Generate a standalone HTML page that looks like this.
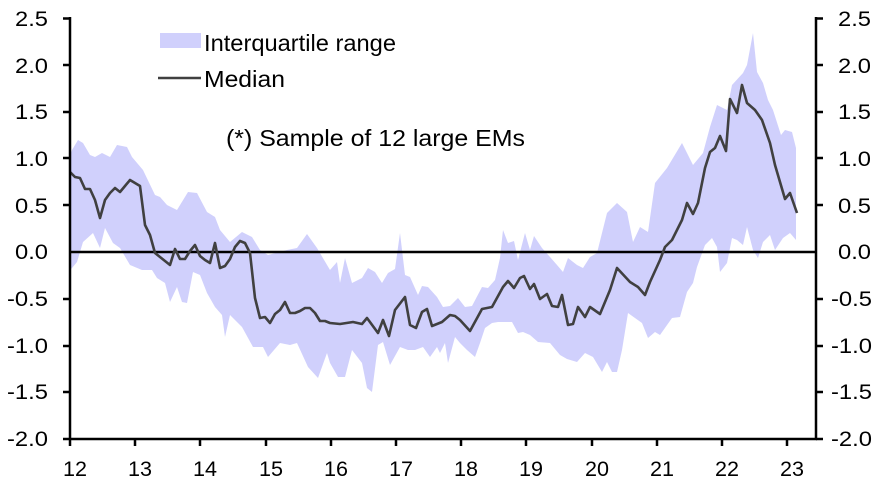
<!DOCTYPE html>
<html><head><meta charset="utf-8"><style>
body{margin:0;background:#fff}
svg{display:block;font-family:"Liberation Sans",sans-serif}
</style></head><body>
<svg width="888" height="482" viewBox="0 0 888 482" xmlns="http://www.w3.org/2000/svg">
<polygon fill="#d0d0fc" points="70,155 72,150 78,140 83,143 90,155 95,157 102,153 110,157 117,145 127,147 132,157 143,170 155,195 160,197 167,205 177,210 188,192 197,193 207,212 215,217 220,230 230,242 242,232 252,237 260,250 268,255 287,250 297,248 307,234 317,248 330,270 337,262 340,283 345,258 352,283 362,278 368,268 375,272 382,283 388,273 395,269 400,233 405,275 410,277 418,295 422,286 428,287 437,297 443,307 450,306 458,298 465,307 472,306 482,287 488,288 495,280 500,258 503,230 508,243 514,241 518,260 525,233 530,250 534,236 542,248 550,257 557,265 563,272 568,258 577,265 583,268 590,257 597,253 607,213 617,203 627,212 633,242 640,227 648,232 655,183 667,168 682,143 693,165 703,153 710,127 717,105 727,110 732,85 743,73 747,65 753,33 757,72 763,83 768,100 773,110 781,135 785,130 792,132 796,148 796,240 790,233 783,238 775,250 770,235 763,242 758,258 753,250 747,227 743,245 737,240 732,238 727,263 720,272 717,247 712,238 705,245 697,267 693,283 687,292 680,317 672,318 660,335 655,332 648,338 642,323 628,313 622,350 617,372 612,372 607,362 602,372 593,357 585,353 577,362 567,359 560,355 550,343 538,342 530,335 523,332 518,333 512,322 498,322 492,323 485,328 480,343 475,357 467,350 460,343 455,337 448,363 445,343 440,353 437,347 430,357 423,347 415,350 408,350 400,347 390,365 383,342 378,345 372,392 367,388 362,363 352,350 345,377 338,377 330,363 327,353 318,378 308,367 297,343 290,345 280,343 268,357 263,347 253,347 242,327 230,315 225,337 222,315 215,307 207,293 200,275 193,272 187,303 182,302 177,287 170,302 165,283 157,278 152,270 142,270 130,265 120,248 113,243 105,228 100,248 93,233 83,242 77,262 72,268 70,270"/>
<line x1="70" y1="252" x2="816" y2="252" stroke="#000" stroke-width="2.5"/>
<polyline fill="none" stroke="#404040" stroke-width="2.6" stroke-linejoin="round" points="70,172 75,177 80,178 85,189 90,189 95,200 100,218 105,200 110,193 115,188 120,192 125,186 130,180 135,183 140,186 145,225 150,235 155,253 160,257 165,261 170,265 175,249 180,259 185,259 190,251 195,245 200,256 205,260 210,263 215,243 220,268 225,266 230,259 235,247 240,241 245,243 250,253 255,298 260,318 265,317 270,323 275,314 280,310 285,302 290,313 295,313 300,311 305,308 310,308 315,313 320,321 325,321 330,323 340,324 353,322 362,324 367,318 378,333 383,320 389,336 395,310 405,297 410,325 416,328 422,312 427,309 432,326 442,322 450,315 455,316 460,320 470,331 482,309 492,307 503,287 508,281 514,288 520,278 524,276 530,289 534,284 540,299 547,294 552,306 558,307 562,295 568,325 573,324 578,307 585,317 590,307 600,314 610,290 617,268 630,282 638,287 645,295 650,282 660,260 665,247 672,240 682,220 687,203 693,214 698,203 705,168 710,152 715,148 720,136 726,151 730,99 737,113 742,85 747,103 755,110 762,120 770,143 775,165 785,199 790,193 797,213"/>
<g stroke="#000" stroke-width="2.5">
<line x1="70" y1="17" x2="70" y2="440"/><line x1="816" y1="17" x2="816" y2="440"/>
<line x1="69" y1="439" x2="817" y2="439"/>
</g>
<g stroke="#000" stroke-width="2.5">
<path d="M63 18.5H70M63 65H70M63 112H70M63 158H70M63 205H70M63 299H70M63 346H70M63 392H70M63 439H70"/>
<path d="M816 18.5H823M816 65H823M816 112H823M816 158H823M816 205H823M816 299H823M816 346H823M816 392H823M816 439H823"/>
<path d="M70 439V446M135 439V446M200 439V446M266 439V446M331 439V446M396 439V446M461 439V446M526 439V446M592 439V446M657 439V446M722 439V446M787 439V446"/>
</g>
<g font-size="21" fill="#000">
<text x="15" y="26" textLength="33" lengthAdjust="spacingAndGlyphs">2.5</text>
<text x="15" y="73" textLength="33" lengthAdjust="spacingAndGlyphs">2.0</text>
<text x="15" y="119" textLength="33" lengthAdjust="spacingAndGlyphs">1.5</text>
<text x="15" y="166" textLength="33" lengthAdjust="spacingAndGlyphs">1.0</text>
<text x="15" y="213" textLength="33" lengthAdjust="spacingAndGlyphs">0.5</text>
<text x="15" y="259" textLength="33" lengthAdjust="spacingAndGlyphs">0.0</text>
<text x="7" y="306" textLength="41" lengthAdjust="spacingAndGlyphs">-0.5</text>
<text x="7" y="353" textLength="41" lengthAdjust="spacingAndGlyphs">-1.0</text>
<text x="7" y="399" textLength="41" lengthAdjust="spacingAndGlyphs">-1.5</text>
<text x="7" y="446" textLength="41" lengthAdjust="spacingAndGlyphs">-2.0</text>
<text x="838" y="26" textLength="33" lengthAdjust="spacingAndGlyphs">2.5</text>
<text x="838" y="73" textLength="33" lengthAdjust="spacingAndGlyphs">2.0</text>
<text x="838" y="119" textLength="33" lengthAdjust="spacingAndGlyphs">1.5</text>
<text x="838" y="166" textLength="33" lengthAdjust="spacingAndGlyphs">1.0</text>
<text x="838" y="213" textLength="33" lengthAdjust="spacingAndGlyphs">0.5</text>
<text x="838" y="259" textLength="33" lengthAdjust="spacingAndGlyphs">0.0</text>
<text x="831" y="306" textLength="41" lengthAdjust="spacingAndGlyphs">-0.5</text>
<text x="831" y="353" textLength="41" lengthAdjust="spacingAndGlyphs">-1.0</text>
<text x="831" y="399" textLength="41" lengthAdjust="spacingAndGlyphs">-1.5</text>
<text x="831" y="446" textLength="41" lengthAdjust="spacingAndGlyphs">-2.0</text>
</g>
<g font-size="21" fill="#000">
<text x="63" y="476" textLength="24" lengthAdjust="spacingAndGlyphs">12</text>
<text x="128" y="476" textLength="24" lengthAdjust="spacingAndGlyphs">13</text>
<text x="193" y="476" textLength="24" lengthAdjust="spacingAndGlyphs">14</text>
<text x="259" y="476" textLength="24" lengthAdjust="spacingAndGlyphs">15</text>
<text x="324" y="476" textLength="24" lengthAdjust="spacingAndGlyphs">16</text>
<text x="389" y="476" textLength="24" lengthAdjust="spacingAndGlyphs">17</text>
<text x="454" y="476" textLength="24" lengthAdjust="spacingAndGlyphs">18</text>
<text x="519" y="476" textLength="24" lengthAdjust="spacingAndGlyphs">19</text>
<text x="585" y="476" textLength="24" lengthAdjust="spacingAndGlyphs">20</text>
<text x="650" y="476" textLength="24" lengthAdjust="spacingAndGlyphs">21</text>
<text x="715" y="476" textLength="24" lengthAdjust="spacingAndGlyphs">22</text>
<text x="780" y="476" textLength="24" lengthAdjust="spacingAndGlyphs">23</text>
</g>
<rect x="160" y="33" width="41" height="15" fill="#d0d0fc"/>
<line x1="158" y1="78" x2="201" y2="78" stroke="#404040" stroke-width="2.6"/>
<g font-size="23" fill="#000">
<text x="204" y="51" textLength="192" lengthAdjust="spacingAndGlyphs">Interquartile range</text>
<text x="204" y="87" textLength="81" lengthAdjust="spacingAndGlyphs">Median</text>
<text x="226" y="146" textLength="299" lengthAdjust="spacingAndGlyphs">(*) Sample of 12 large EMs</text>
</g>
</svg>
</body></html>
